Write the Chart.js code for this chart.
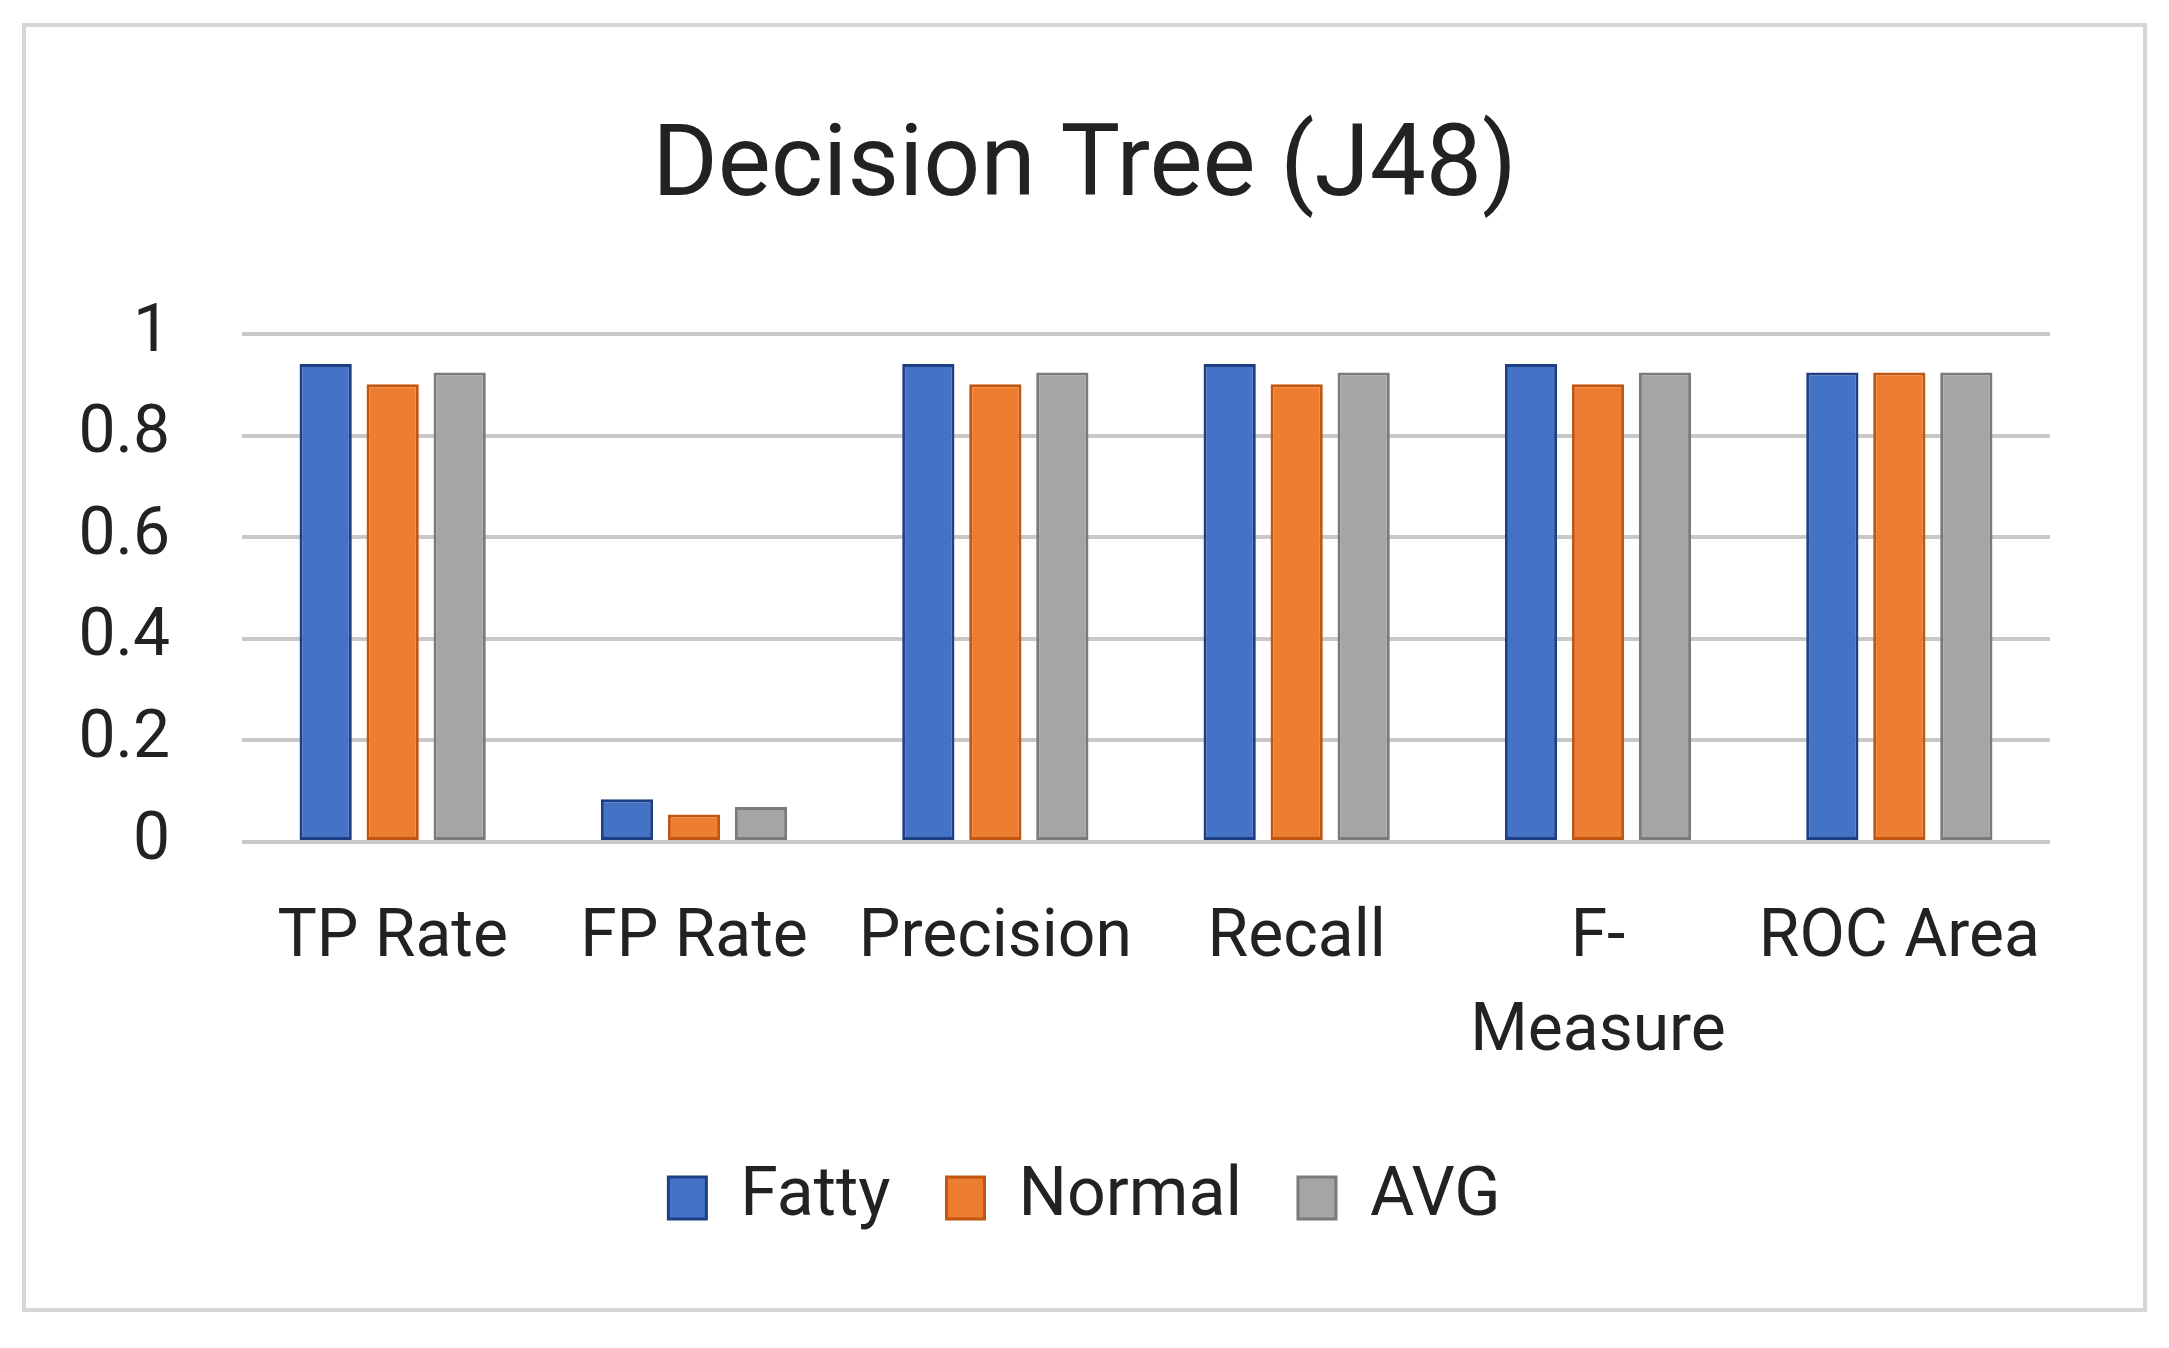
<!DOCTYPE html>
<html>
<head>
<meta charset="utf-8">
<script src="https://cdn.jsdelivr.net/npm/chart.js@4.4.1/dist/chart.umd.min.js"></script>
<style>
    body { margin: 0; background: #ffffff; }
    #frame {
        position: absolute;
        left: 22px; top: 23px;
        width: 2125px; height: 1289px;
        border: 4px solid #d6d6d6;
        box-sizing: border-box;
        background: #ffffff;
    }
    #wrap { position: absolute; left: 0; top: 0; width: 2117px; height: 1281px; }
</style>
</head>
<body>
<div id="frame"><div id="wrap"><canvas id="j48Chart"></canvas></div></div>
<script>
// Data dari gambar
const categories = ['TP Rate', 'FP Rate', 'Precision', 'Recall', ['F-', 'Measure'], 'ROC Area'];
const fattyValues = [0.941, 0.084, 0.941, 0.941, 0.941, 0.924];
const normalValues = [0.901, 0.054, 0.901, 0.901, 0.901, 0.924];
const avgValues = [0.924, 0.069, 0.924, 0.924, 0.924, 0.924];
const yTicks = [0, 0.2, 0.4, 0.6, 0.8, 1];

const fontFamily = 'Roboto, "Open Sans", sans-serif';
const textColor = '#222222';

function makeDataset(label, data, fill, border) {
    return {
        label: label,
        data: data,
        backgroundColor: fill,
        borderColor: border,
        borderWidth: 3,
        borderSkipped: false,
        barPercentage: 0.78,
        categoryPercentage: 0.667,
    };
}

const ctx = document.getElementById('j48Chart').getContext('2d');
const j48Chart = new Chart(ctx, {
    type: 'bar',
    data: {
        labels: categories,
        datasets: [
            makeDataset('Fatty', fattyValues, '#4472c4', '#1f3f85'),
            makeDataset('Normal', normalValues, '#ed7d31', '#c0560f'),
            makeDataset('AVG', avgValues, '#a5a5a5', '#7a7a7a'),
        ]
    },
    options: {
        responsive: true,
        maintainAspectRatio: false,
        animation: false,
        devicePixelRatio: 1,
        layout: { padding: { left: 0, right: 0, top: 0, bottom: 66 } },
        plugins: {
            title: {
                display: true,
                text: 'Decision Tree (J48)',
                color: textColor,
                font: { family: fontFamily, size: 100, weight: 'normal', lineHeight: 1.2 },
                padding: { top: 83, bottom: 104 }
            },
            legend: {
                display: true,
                position: 'bottom',
                labels: {
                    color: textColor,
                    font: { family: fontFamily, size: 68 },
                    boxWidth: 38,
                    boxHeight: 42,
                    padding: 56
                }
            },
            tooltip: { enabled: false }
        },
        scales: {
            x: {
                grid: { display: false, drawTicks: false },
                border: { display: false },
                ticks: {
                    color: textColor,
                    font: { family: fontFamily, size: 66, lineHeight: 1.42 },
                    padding: 51,
                    maxRotation: 0,
                    autoSkip: false
                },
                afterFit: scale => { scale.height = 266; }
            },
            y: {
                min: 0,
                max: 1,
                grid: { color: '#c8c8c8', lineWidth: 4, drawTicks: false },
                border: { display: false },
                afterBuildTicks: scale => { scale.ticks = yTicks.map(v => ({ value: v })); },
                ticks: {
                    color: textColor,
                    font: { family: fontFamily, size: 66 },
                    padding: 72,
                    callback: value => String(Math.round(value * 10) / 10)
                },
                afterFit: scale => { scale.width = 216; }
            },
            // ruang kosong di kanan supaya judul dan legenda tetap di tengah
            yRight: {
                position: 'right',
                min: 0,
                max: 1,
                grid: { display: false, drawTicks: false },
                border: { display: false },
                ticks: { display: false },
                afterFit: scale => { scale.width = 93; }
            }
        }
    }
});
</script>
</body>
</html>
